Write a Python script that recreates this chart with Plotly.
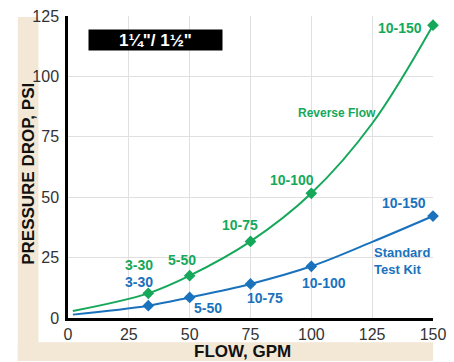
import plotly.graph_objects as go

# marked test points: flow (GPM) / pressure drop (PSI)
flow_pts = [33, 50, 75, 100, 150]
reverse_psi = [10.2, 17.5, 31.7, 51.6, 121.2]
standard_psi = [5.1, 8.5, 14.1, 21.4, 42.2]
point_labels = ["3-30", "5-50", "10-75", "10-100", "10-150"]

# points along the drawn curves (incl. unmarked start and 125 GPM)
curve_flow = [2, 33, 50, 75, 100, 125, 150]
reverse_curve = [2.9, 10.2, 17.5, 31.7, 51.6, 80.5, 121.2]
standard_curve = [1.4, 5.1, 8.5, 14.1, 21.4, 31.5, 42.2]

x_ticks = [0, 25, 50, 75, 100, 125, 150]
y_ticks = [0, 25, 50, 75, 100, 125]

GREEN = "#16a85a"
BLUE = "#1a72bd"
BEIGE = "#f3e7d6"
TICK_FONT = dict(family="Liberation Sans Narrow, Liberation Sans, sans-serif", size=16, color="#333")
LABEL_FONT = "Liberation Sans, Arial, sans-serif"

fig = go.Figure()

for curve, psi, color in [(reverse_curve, reverse_psi, GREEN),
                          (standard_curve, standard_psi, BLUE)]:
    fig.add_trace(go.Scatter(
        x=curve_flow, y=curve,
        mode="lines", line=dict(color=color, width=2, shape="spline", smoothing=1.0),
        hoverinfo="skip", showlegend=False,
    ))
    fig.add_trace(go.Scatter(
        x=flow_pts, y=psi, mode="markers",
        marker=dict(symbol="diamond", size=9, color=color),
        showlegend=False, cliponaxis=False,
    ))

# label offsets in data units (position relative to each point)
green_offsets = [(-4, 11.6), (-3, 6.7), (-4.2, 7), (-8, 5.7), (-13.7, -1)]
blue_offsets = [(-4, 9.8), (7.4, -4.5), (5.9, -6), (5.1, -6.9), (-12.1, 5.4)]

for i, lab in enumerate(point_labels):
    dx, dy = green_offsets[i]
    fig.add_annotation(x=flow_pts[i] + dx, y=reverse_psi[i] + dy, text=f"<b>{lab}</b>",
                       showarrow=False, font=dict(family=LABEL_FONT, size=14, color=GREEN))
    dx, dy = blue_offsets[i]
    fig.add_annotation(x=flow_pts[i] + dx, y=standard_psi[i] + dy, text=f"<b>{lab}</b>",
                       showarrow=False, font=dict(family=LABEL_FONT, size=14, color=BLUE))

fig.add_annotation(x=110.5, y=84.7, text="<b>Reverse Flow</b>", showarrow=False,
                   font=dict(family=LABEL_FONT, size=12, color=GREEN))
fig.add_annotation(x=125, y=23.8, text="<b>Standard<br>Test Kit</b>", showarrow=False,
                   xanchor="left", align="left",
                   font=dict(family=LABEL_FONT, size=13, color=BLUE))

# title box
fig.add_annotation(xref="paper", yref="paper", x=0.241, y=0.919, xanchor="center", yanchor="middle",
                   text="<b>1¼\"/ 1½\"</b>", showarrow=False, bgcolor="black", width=133, height=20,
                   borderpad=0, font=dict(family=LABEL_FONT, size=17, color="white"))

# beige frame behind axis titles
fig.add_shape(type="rect", xref="paper", yref="paper", x0=-0.1375, x1=-0.0809, y0=-0.142, y1=0.997,
              fillcolor=BEIGE, line=dict(width=0), layer="below")
fig.add_shape(type="rect", xref="paper", yref="paper", x0=-0.1375, x1=1.0, y0=-0.142, y1=-0.0806,
              fillcolor=BEIGE, line=dict(width=0), layer="below")

fig.add_annotation(xref="paper", yref="paper", x=-0.108, y=0.476, xanchor="center", yanchor="middle",
                   text="<b>PRESSURE DROP, PSI</b>", textangle=-90, showarrow=False,
                   font=dict(family=LABEL_FONT, size=17, color="#111"))
fig.add_annotation(xref="paper", yref="paper", x=0.477, y=-0.112, xanchor="center", yanchor="middle",
                   text="<b>FLOW, GPM</b>", showarrow=False,
                   font=dict(family=LABEL_FONT, size=17, color="#111"))

fig.update_xaxes(range=[0, 150], tickvals=x_ticks, showgrid=True, gridcolor="#e0e0e0", gridwidth=1,
                 showline=True, linecolor="black", linewidth=2.5, zeroline=False,
                 tickfont=TICK_FONT, ticks="", ticklabelstandoff=0, ticklabeloverflow="allow")
fig.update_yaxes(range=[0, 125], tickvals=y_ticks, showgrid=True, gridcolor="#e0e0e0", gridwidth=1,
                 showline=True, linecolor="black", linewidth=2.5, zeroline=False,
                 tickfont=TICK_FONT, ticks="", ticklabelstandoff=3, ticklabeloverflow="allow")

fig.update_layout(
    width=454, height=362,
    margin=dict(l=68, r=15, t=8, b=44),
    plot_bgcolor="white", paper_bgcolor="white",
)

fig.write_html("out.html", config={"displayModeBar": False},
               post_script="document.body.style.margin='0';")
